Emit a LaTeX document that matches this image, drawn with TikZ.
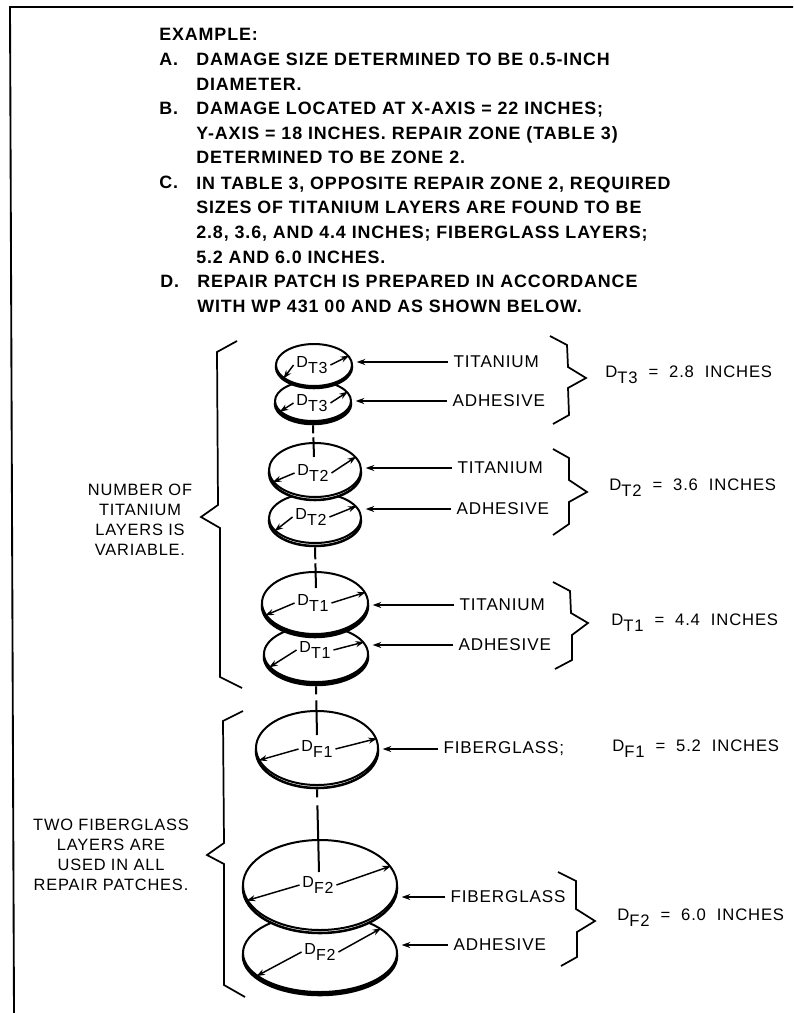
\documentclass[tikz,border=0pt]{standalone}
\usepackage{fontspec}
\setmainfont[LetterSpace=5]{Liberation Sans}
\usetikzlibrary{shapes.geometric,arrows.meta,calc}
\newcommand{\dsub}[1]{D\raisebox{-.36em}{#1}}

\begin{document}
\begin{tikzpicture}[
    x=0.75pt, y=-0.75pt,
    >={Stealth[length=6.5pt,width=4.5pt]},
    inktext/.style={font=\fontsize{13.4pt}{18.5pt}\selectfont\bfseries, anchor=base west, inner sep=0pt, align=left},
    % disks are two stacked ellipses: the rim underneath, the face on top
    disk/.style={draw, ellipse, fill=white, inner sep=0pt, line width=1.5pt},
    rim/.style={disk, line width=1.9pt},
    dimlab/.style={font=\fontsize{12pt}{12pt}\selectfont, inner sep=2pt},
    dimarrow/.style={->, line width=1.1pt},
    leader/.style={->, line width=1.4pt, shorten >=2.5pt},
    partlab/.style={font=\fontsize{12.8pt}{14pt}\selectfont, anchor=west, inner sep=4pt},
    valuelab/.style={font=\fontsize{12.5pt}{14pt}\selectfont, anchor=base west, inner sep=0pt},
    sidenote/.style={font=\fontsize{12.3pt}{15pt}\selectfont, align=center},
    brace/.style={line width=1.3pt, line join=miter},
    stem/.style={line width=1.5pt},
]
\useasboundingbox (0,0) rectangle (793,1013);

%================= frame =================%
\draw[line width=1.4pt] (793,7) -- (10,7) -- (14,1013);

%================= the worked example =================%
\node[inktext] (head) at (159,41) {EXAMPLE:};
\node[inktext] (itemA) at (159,65.5) {A.};
\node[inktext] (textA) at (196,90.5) {DAMAGE SIZE DETERMINED TO BE 0.5-INCH\\DIAMETER.};
\node[inktext] (itemB) at (159,115) {B.};
\node[inktext] (textB) at (196,164) {DAMAGE LOCATED AT X-AXIS = 22 INCHES;\\Y-AXIS = 18 INCHES. REPAIR ZONE (TABLE 3)\\DETERMINED TO BE ZONE 2.};
\node[inktext] (itemC) at (159,189) {C.};
\node[inktext] (textC) at (196,263) {IN TABLE 3, OPPOSITE REPAIR ZONE 2, REQUIRED\\SIZES OF TITANIUM LAYERS ARE FOUND TO BE\\2.8, 3.6, AND 4.4 INCHES; FIBERGLASS LAYERS;\\5.2 AND 6.0 INCHES.};
\node[inktext] (itemD) at (160,287.5) {D.};
\node[inktext] (textD) at (197,312.5) {REPAIR PATCH IS PREPARED IN ACCORDANCE\\WITH WP 431 00 AND AS SHOWN BELOW.};

%================= the disks, lowest of each pair first =================%
\foreach \dname/\cx/\cy/\rx/\ry/\rimoff/\rimfill in {
    dTthreeA/313/401/38/20/3/black,
    dTthree/314/365/38/21/2/black,
    dTtwoA/315/518/46/25/3/white,
    dTtwo/315/470/46/27/3/white,
    dToneA/316/654/52/28/3/black,
    dTone/315/603/53/31/3/black,
    dFone/317/748/61/37/3/white,
    dFtwoA/320/953/77/39/3/black,
    dFtwo/320/885/77/45/3/white} {
  \node[rim, fill=\rimfill, minimum width=2*\rx*0.75pt, minimum height=2*\ry*0.75pt] (\dname r) at (\cx,\cy+\rimoff) {};
  \node[disk, minimum width=2*\rx*0.75pt, minimum height=2*\ry*0.75pt] (\dname) at (\cx,\cy) {};
}

%================= diameters =================%
\foreach \dname/\lx/\ly/\txt/\angr/\angl in {
    dTthree/312/365/T3/15/204,
    dTthreeA/312/403/T3/15/198,
    dTtwo/313/473/T2/18/196,
    dTtwoA/311/517/T2/16/198,
    dTone/313/603/T1/12/194,
    dToneA/315/650/T1/14/196,
    dFone/317/749/F1/9/192,
    dFtwo/318/885/F2/15/192,
    dFtwoA/320/952/F2/22/200} {
  \node[dimlab] (\dname lab) at (\lx,\ly) {\dsub{\txt}};
  \draw[dimarrow] (\dname lab.east) -- (\dname.\angr);
  \draw[dimarrow] (\dname lab.west) -- (\dname.\angl);
}

%================= stems between the layers =================%
\coordinate (stemTtwo) at (314,457);
\coordinate (stemTone) at (316,588);
\coordinate (stemFone) at (317,735);
\coordinate (stemFtwo) at (319,872);
\draw[stem, dash pattern=on 6pt off 3pt on 200pt] (dTthreeAr.south) -- (stemTtwo);
\draw[stem, dash pattern=on 9pt off 3pt on 200pt] (dTtwoAr.south) -- (stemTone);
\draw[stem, dash pattern=on 6pt off 4.5pt on 200pt] (dToneAr.south) -- (stemFone);
\draw[stem, dash pattern=on 6pt off 6pt on 200pt] (dFoner.south) -- (stemFtwo);

%================= parts and their leaders =================%
\foreach \lname/\lx/\ly/\txt/\dname in {
    titThree/448/362/TITANIUM/dTthree,
    adhThree/447/401/ADHESIVE/dTthreeA,
    titTwo/452/468/TITANIUM/dTtwo,
    adhTwo/451/509/ADHESIVE/dTtwoA,
    titOne/454/605/TITANIUM/dTone,
    adhOne/453/645/ADHESIVE/dToneA,
    fibOne/438/749/FIBERGLASS;/dFone,
    fibTwo/445/897/FIBERGLASS/dFtwo,
    adhFtwo/448/945/ADHESIVE/dFtwoA} {
  \node[partlab] (\lname) at (\lx,\ly) {\txt};
  \draw[leader] (\lname.west) -- (\lname.west -| \dname r.east);
}

%================= right braces and sizes =================%
\draw[brace] (550,336) -- (567,345) -- (568,367) -- (586,378) -- (568,388) -- (569,415) -- (553,424);
\draw[brace] (553,449) -- (569,458) -- (569,480) -- (587,492) -- (569,502) -- (569,524) -- (553,535);
\draw[brace] (553,582) -- (570,591) -- (571,613) -- (588,623) -- (572,635) -- (572,660) -- (555,669);
\draw[brace] (558,872) -- (576,881) -- (576,909) -- (595,921) -- (577,932) -- (577,957) -- (561,966);
\node[valuelab] (valTthree) at (605,377) {\dsub{T3}\ \ =\ \ 2.8\ \ INCHES};
\node[valuelab] (valTtwo) at (609,490) {\dsub{T2}\ \ =\ \ 3.6\ \ INCHES};
\node[valuelab] (valTone) at (611,625) {\dsub{T1}\ \ =\ \ 4.4\ \ INCHES};
\node[valuelab] (valFone) at (612,751) {\dsub{F1}\ \ =\ \ 5.2\ \ INCHES};
\node[valuelab] (valFtwo) at (617,920) {\dsub{F2}\ \ =\ \ 6.0\ \ INCHES};

%================= left braces and notes =================%
\draw[brace] (237,341) -- (217,352) -- (218,505) -- (201,517) -- (220,528) -- (220,677) -- (242,688);
\draw[brace] (243,711) -- (223,721) -- (224,843) -- (207,855) -- (224,864) -- (224,985) -- (245,997);
\node[sidenote] (noteT) at (140,520) {NUMBER OF\\TITANIUM\\LAYERS IS\\VARIABLE.};
\node[sidenote] (noteF) at (111,855) {TWO FIBERGLASS\\LAYERS ARE\\USED IN ALL\\REPAIR PATCHES.};
\end{tikzpicture}
\end{document}
